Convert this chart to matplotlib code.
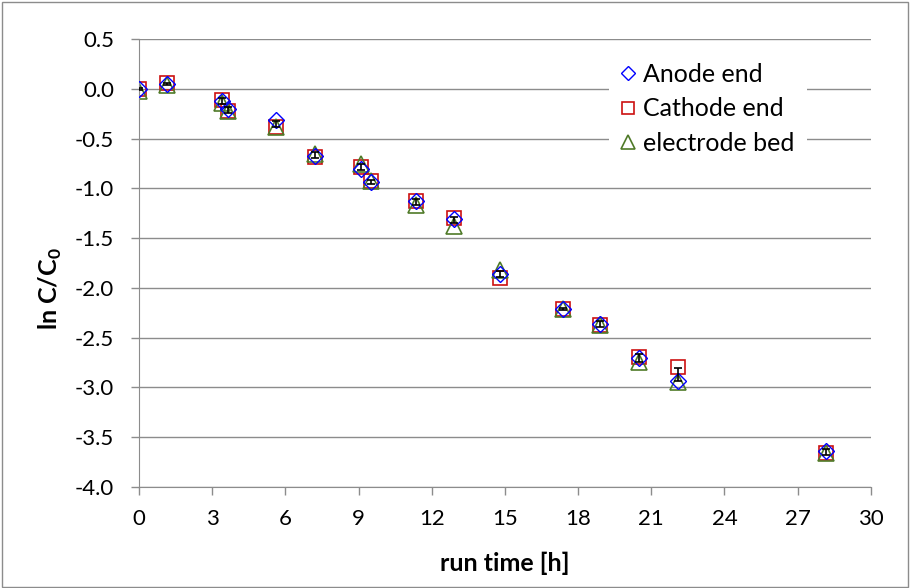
import matplotlib
matplotlib.use("Agg")
import matplotlib.pyplot as plt
import numpy as np

plt.rcParams['font.family'] = ['Lato', 'DejaVu Sans']
plt.rcParams['mathtext.fontset'] = 'custom'
plt.rcParams['mathtext.bf'] = 'Lato:bold'
plt.rcParams['mathtext.rm'] = 'Lato'

time_h = [0.0, 1.15, 3.4, 3.65, 5.6, 7.2, 9.1, 9.5, 11.35, 12.9, 14.8, 17.4, 18.9, 20.5, 22.1, 28.15]
anode = [0.0, 0.05, -0.12, -0.20, -0.31, -0.68, -0.81, -0.94, -1.13, -1.31, -1.86, -2.21, -2.36, -2.70, -2.94, -3.64]
cathode = [0.0, 0.06, -0.11, -0.22, -0.38, -0.69, -0.79, -0.93, -1.13, -1.30, -1.90, -2.21, -2.37, -2.69, -2.79, -3.66]
bed = [-0.02, 0.04, -0.14, -0.22, -0.38, -0.66, -0.76, -0.93, -1.17, -1.38, -1.82, -2.21, -2.37, -2.74, -2.95, -3.66]
err_center = [0.0, 0.05, -0.12, -0.21, -0.35, -0.67, -0.79, -0.94, -1.14, -1.32, -1.86, -2.21, -2.36, -2.70, -2.87, -3.65]
err_half = [0.01, 0.01, 0.03, 0.03, 0.03, 0.03, 0.03, 0.02, 0.03, 0.03, 0.03, 0.01, 0.03, 0.04, 0.07, 0.03]

xticks = [0, 3, 6, 9, 12, 15, 18, 21, 24, 27, 30]
yticks = [0.5, 0.0, -0.5, -1.0, -1.5, -2.0, -2.5, -3.0, -3.5, -4.0]

fig = plt.figure(figsize=(9.1, 5.88), dpi=100)
ax = fig.add_axes([0.1527, 0.1718, 0.957 - 0.1527, 0.9337 - 0.1718])

grid_c = '#8c8c8c'
for yv in yticks:
    ax.axhline(yv, color=grid_c, lw=1.0, zorder=0)

ax.plot(time_h, anode, ls='none', marker='D', ms=8.0, mfc='none', mec='#0000ff', mew=1.0, label='Anode end', zorder=3)
ax.plot(time_h, cathode, ls='none', marker='s', ms=10.5, mfc='none', mec='#cc1111', mew=1.2, label='Cathode end', zorder=2)
ax.plot(time_h, bed, ls='none', marker='^', ms=12, mfc='none', mec='#4f7a28', mew=1.2, label='electrode bed', zorder=2)
ax.errorbar(time_h, err_center, yerr=err_half, fmt='none', ecolor='black', elinewidth=1.2, capsize=3, capthick=1.2, zorder=4)

ax.set_xlim(0, 30)
ax.set_ylim(-4.0, 0.5)
ax.set_xticks(xticks)
ax.set_yticks(yticks)
ax.set_yticklabels([f"{v:.1f}" for v in yticks])
for s in ['top', 'right']:
    ax.spines[s].set_visible(False)
ax.spines['left'].set_color(grid_c)
ax.spines['bottom'].set_color(grid_c)
ax.tick_params(axis='both', colors=grid_c, labelcolor='black', labelsize=16, direction='out', length=6, width=1.0)
ax.tick_params(axis='x', pad=10)
ax.tick_params(axis='y', pad=12)

ax.set_xlabel('run time [h]', fontsize=18, fontweight='bold')
ax.xaxis.set_label_coords(0.5, -0.145)
ax.set_ylabel(r'ln C/C$_\mathbf{0}$', fontsize=18, fontweight='bold')
ax.yaxis.set_label_coords(-0.103, 0.442)

leg = ax.legend(loc='upper left', bbox_to_anchor=(0.625, 1.003), frameon=True, fontsize=18,
                handlelength=0.5, handletextpad=0.35, labelspacing=0.47, borderpad=0.5,
                markerscale=0.85)
leg.get_frame().set_edgecolor('none')
leg.get_frame().set_facecolor('white')
leg.get_frame().set_alpha(1.0)
leg.get_frame().set_boxstyle('square', pad=0.0)

fig.patches.append(plt.Rectangle((0.002, 0.002), 0.996, 0.995, transform=fig.transFigure,
                                 fill=False, edgecolor='#8c8c8c', lw=1.0))

fig.savefig('out.png', dpi=100)
